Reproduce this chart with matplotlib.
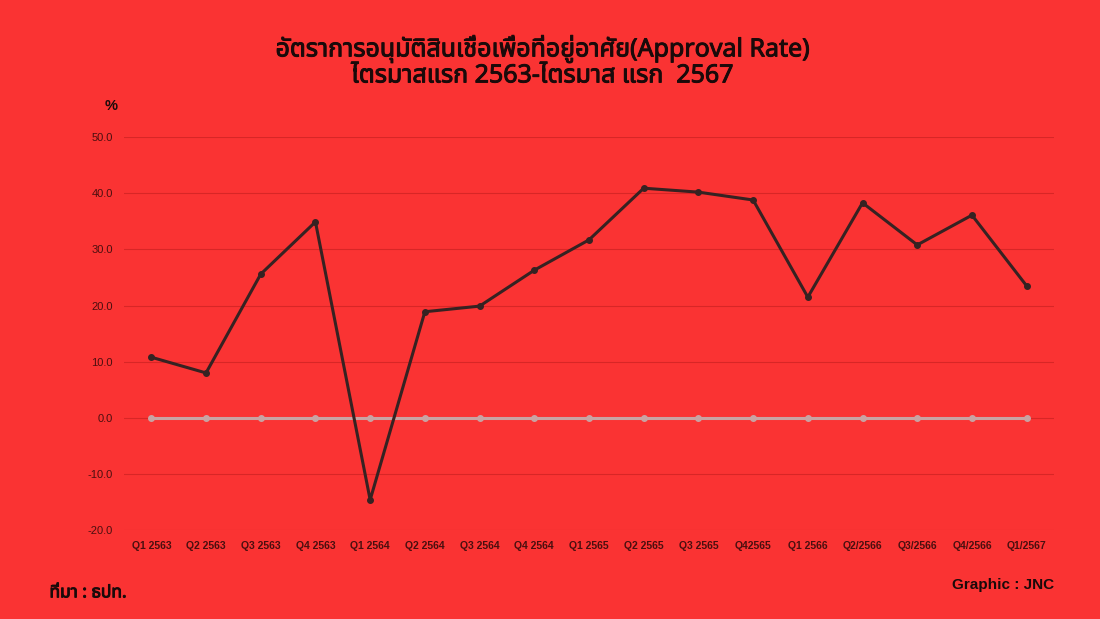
import matplotlib
matplotlib.use('Agg')
import matplotlib.pyplot as plt
import matplotlib.patheffects as pe
from matplotlib import font_manager

# data
quarters = ['Q1 2563', 'Q2 2563', 'Q3 2563', 'Q4 2563', 'Q1 2564', 'Q2 2564',
            'Q3 2564', 'Q4 2564', 'Q1 2565', 'Q2 2565', 'Q3 2565', 'Q42565',
            'Q1 2566', 'Q2/2566', 'Q3/2566', 'Q4/2566', 'Q1/2567']
approval_rate = [10.8, 8.0, 25.6, 34.9, -14.6, 18.9, 19.9, 26.3, 31.7,
                 40.9, 40.2, 38.8, 21.5, 38.3, 30.8, 36.1, 23.5]
baseline = [0.0] * len(quarters)
yticks = [-20, -10, 0, 10, 20, 30, 40, 50]

title = 'อัตราการอนุมัติสินเชื่อเพื่อที่อยู่อาศัย(Approval Rate)\nไตรมาสแรก 2563-ไตรมาส แรก  2567'

# pick a family that has Thai glyphs if there is one
installed = {f.name for f in font_manager.fontManager.ttflist}
fams = [f for f in ['Noto Sans Thai', 'Noto Sans Thai UI', 'Loma', 'Garuda',
                    'Tlwg Typo', 'Noto Sans', 'DejaVu Sans'] if f in installed]
plt.rcParams['font.family'] = fams

bg = '#fa3333'
dark = '#362222'
txt = '#4a0f0f'
blk = '#1a0a0a'
lat = ['Liberation Sans', 'DejaVu Sans']
# the Thai font has no bold, so thicken with a stroke
fake_bold = [pe.withStroke(linewidth=0.7, foreground=blk)]

fig = plt.figure(figsize=(11, 6.19), dpi=100, facecolor=bg)
ax = fig.add_axes([0.1127, 0.1435, 0.8455, 0.635], facecolor=bg)

x = list(range(len(quarters)))
ax.plot(x, baseline, color='#c9a3a3', lw=2.2, marker='o', ms=4, zorder=3)
ax.plot(x, approval_rate, color=dark, lw=2.2, marker='o', ms=4, zorder=4)

ax.set_xlim(-0.5, len(quarters) - 0.5)
ax.set_ylim(-20, 50)
ax.set_yticks(yticks)
ax.set_yticklabels([f'{v:.1f}' for v in yticks], fontsize=8, color=txt,
                   family=lat)
ax.set_xticks(x)
ax.set_xticklabels(quarters, fontsize=7.5, color=txt, fontweight='bold',
                   family=lat)
ax.tick_params(length=0, pad=8)
ax.grid(axis='y', color='#d82626', lw=0.8)
ax.set_axisbelow(True)
for s in ax.spines.values():
    s.set_visible(False)

fig.text(0.0955, 0.822, '%', fontsize=10.5, color=blk, fontweight='bold',
         family=lat)
fig.text(0.493, 0.90, title, ha='center', va='center', fontsize=18,
         color=blk, linespacing=1.0, path_effects=fake_bold)
fig.text(0.045, 0.035, 'ที่มา : ธปท.', fontsize=12.5, color=blk,
         path_effects=fake_bold)
fig.text(0.958, 0.048, 'Graphic : JNC', fontsize=11, fontweight='bold',
         color=blk, ha='right', family=lat)

fig.savefig('out.png', dpi=100, facecolor=bg)
